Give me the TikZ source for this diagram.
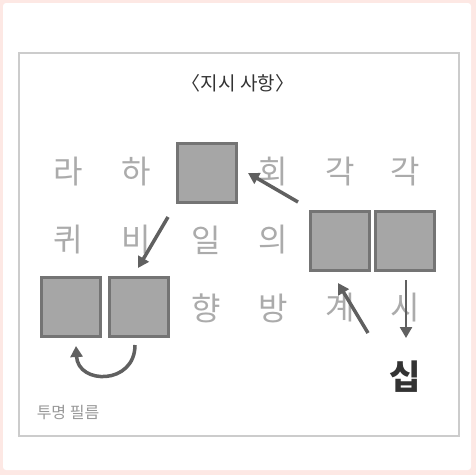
\documentclass[tikz,border=0pt]{standalone}
\usepackage{fontspec}
\usetikzlibrary{arrows.meta}
\newfontfamily\kr{Noto Sans CJK KR}
\definecolor{pinkbg}{HTML}{FDE8E4}
\definecolor{framegray}{HTML}{CCCCCC}
\definecolor{fadegray}{HTML}{ABABAB}
\definecolor{boxfill}{HTML}{A6A6A6}
\definecolor{boxedge}{HTML}{747474}
\definecolor{arrowgray}{HTML}{606060}

\begin{document}
\begin{tikzpicture}[x=1pt, y=-1pt,
    letter/.style={font=\kr\fontsize{32}{32}\selectfont, text=fadegray},
    blank/.style={draw=boxedge, line width=3pt, fill=boxfill, minimum size=59pt, inner sep=0pt},
    move/.style={draw=arrowgray, line width=3.5pt, -{Triangle[length=11pt,width=12pt]}}]

    % Background and sheet
    \fill[pinkbg] (0,0) rectangle (476,475);
    \fill[white, rounded corners=3pt] (3,3) rectangle (471,470);
    \draw[framegray, line width=1.5pt] (19,53) rectangle (459,436);
    \node[font=\kr\fontsize{19}{19}\selectfont, text=black!80] (title) at (238,83) {〈지시 사항〉};

    % Row 1
    \node[letter] (ra) at (68,172) {라};
    \node[letter] (ha) at (136,172) {하};
    \node[blank] (b1) at (206.5,173) {};
    \node[letter] (hoe) at (273,172) {회};
    \node[letter] (gak1) at (340,172) {각};
    \node[letter] (gak2) at (405,172) {각};

    % Row 2
    \node[letter] (kwi) at (68,240) {퀴};
    \node[letter] (bi) at (136,240) {비};
    \node[letter] (il) at (206,240) {일};
    \node[letter] (ui) at (273,240) {의};
    \node[blank] (b2) at (340,241) {};
    \node[blank] (b3) at (405,241) {};

    % Row 3
    \node[blank] (b4) at (71,307) {};
    \node[blank] (b5) at (139,307) {};
    \node[letter] (hyang) at (206,308) {향};
    \node[letter] (bang) at (273,308) {방};
    \node[letter] (gye) at (340,308) {계};
    \node[letter] (si) at (405,308) {시};

    % Answer and caption
    \node[font=\kr\bfseries\fontsize{34}{34}\selectfont, text=black!80] (sip) at (405,377) {십};
    \node[font=\kr\fontsize{16}{16}\selectfont, text=black!40] (film) at (68,412) {투명 필름};

    % Moves
    \coordinate (s1) at (298,202);
    \coordinate (e1) at (248,173);
    \coordinate (s2) at (168,217);
    \coordinate (e2) at (138,268);
    \coordinate (s3) at (368,333);
    \coordinate (e3) at (338,283);
    \coordinate (s4) at (406,280);
    \coordinate (e4) at (406,338);
    \coordinate (s5) at (135,345);
    \coordinate (e5) at (76,346);
    \draw[move] (s1) -- (e1);
    \draw[move] (s2) -- (e2);
    \draw[move] (s3) -- (e3);
    \draw[move, line width=2.5pt] (s4) -- (e4);
    \draw[move] (s5) .. controls (135,385) and (78,385) .. (e5);
\end{tikzpicture}
\end{document}
